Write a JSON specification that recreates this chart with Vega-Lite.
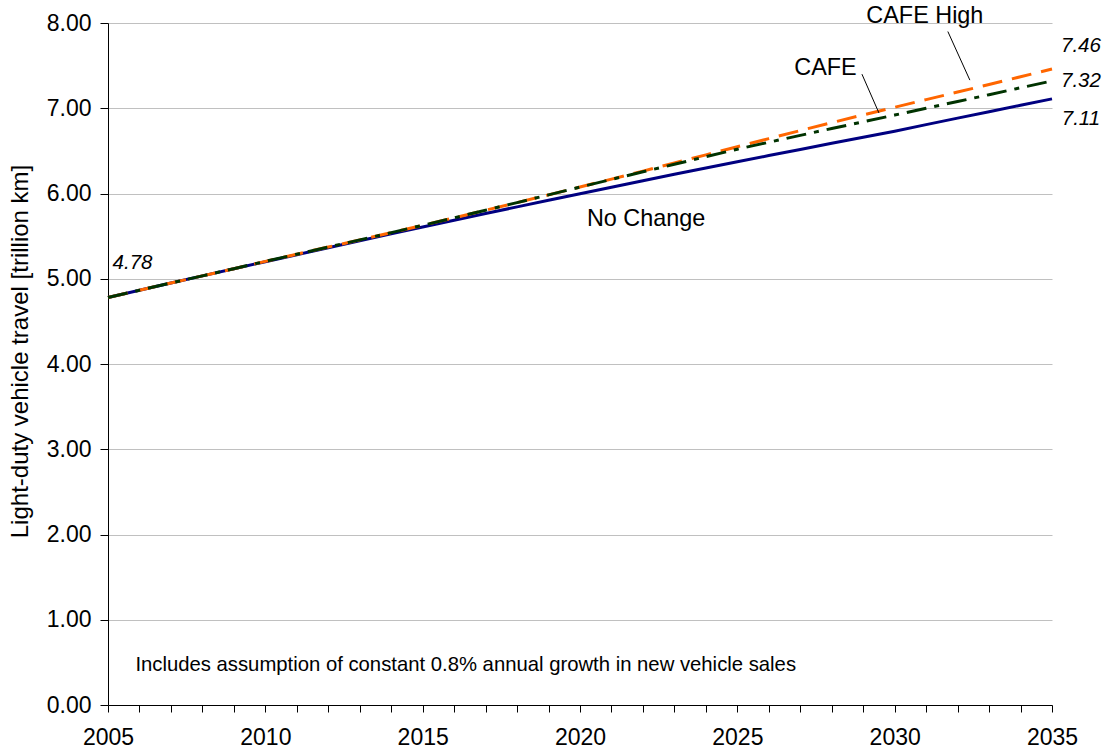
{
  "$schema": "https://vega.github.io/schema/vega-lite/v6.json",
  "autosize": "none",
  "width": 944,
  "height": 682,
  "padding": {"left": 108, "top": 23, "right": 53, "bottom": 47},
  "background": "white",
  "config": {
    "font": "Liberation Sans",
    "view": {"stroke": null},
    "axis": {"labelFont": "Liberation Sans", "titleFont": "Liberation Sans"}
  },
  "datasets": {
    "series": [
      {"year": 2005, "series": "No Change", "value": 4.780},
      {"year": 2006, "series": "No Change", "value": 4.865},
      {"year": 2007, "series": "No Change", "value": 4.950},
      {"year": 2008, "series": "No Change", "value": 5.034},
      {"year": 2009, "series": "No Change", "value": 5.117},
      {"year": 2010, "series": "No Change", "value": 5.200},
      {"year": 2011, "series": "No Change", "value": 5.282},
      {"year": 2012, "series": "No Change", "value": 5.364},
      {"year": 2013, "series": "No Change", "value": 5.445},
      {"year": 2014, "series": "No Change", "value": 5.526},
      {"year": 2015, "series": "No Change", "value": 5.606},
      {"year": 2016, "series": "No Change", "value": 5.686},
      {"year": 2017, "series": "No Change", "value": 5.765},
      {"year": 2018, "series": "No Change", "value": 5.843},
      {"year": 2019, "series": "No Change", "value": 5.921},
      {"year": 2020, "series": "No Change", "value": 5.998},
      {"year": 2021, "series": "No Change", "value": 6.074},
      {"year": 2022, "series": "No Change", "value": 6.150},
      {"year": 2023, "series": "No Change", "value": 6.225},
      {"year": 2024, "series": "No Change", "value": 6.299},
      {"year": 2025, "series": "No Change", "value": 6.372},
      {"year": 2026, "series": "No Change", "value": 6.445},
      {"year": 2027, "series": "No Change", "value": 6.517},
      {"year": 2028, "series": "No Change", "value": 6.589},
      {"year": 2029, "series": "No Change", "value": 6.660},
      {"year": 2030, "series": "No Change", "value": 6.731},
      {"year": 2031, "series": "No Change", "value": 6.808},
      {"year": 2032, "series": "No Change", "value": 6.884},
      {"year": 2033, "series": "No Change", "value": 6.960},
      {"year": 2034, "series": "No Change", "value": 7.035},
      {"year": 2035, "series": "No Change", "value": 7.110},
      {"year": 2005, "series": "CAFE High", "value": 4.780},
      {"year": 2006, "series": "CAFE High", "value": 4.865},
      {"year": 2007, "series": "CAFE High", "value": 4.950},
      {"year": 2008, "series": "CAFE High", "value": 5.034},
      {"year": 2009, "series": "CAFE High", "value": 5.118},
      {"year": 2010, "series": "CAFE High", "value": 5.204},
      {"year": 2011, "series": "CAFE High", "value": 5.288},
      {"year": 2012, "series": "CAFE High", "value": 5.372},
      {"year": 2013, "series": "CAFE High", "value": 5.456},
      {"year": 2014, "series": "CAFE High", "value": 5.541},
      {"year": 2015, "series": "CAFE High", "value": 5.627},
      {"year": 2016, "series": "CAFE High", "value": 5.715},
      {"year": 2017, "series": "CAFE High", "value": 5.804},
      {"year": 2018, "series": "CAFE High", "value": 5.893},
      {"year": 2019, "series": "CAFE High", "value": 5.984},
      {"year": 2020, "series": "CAFE High", "value": 6.076},
      {"year": 2021, "series": "CAFE High", "value": 6.169},
      {"year": 2022, "series": "CAFE High", "value": 6.263},
      {"year": 2023, "series": "CAFE High", "value": 6.358},
      {"year": 2024, "series": "CAFE High", "value": 6.453},
      {"year": 2025, "series": "CAFE High", "value": 6.549},
      {"year": 2026, "series": "CAFE High", "value": 6.644},
      {"year": 2027, "series": "CAFE High", "value": 6.738},
      {"year": 2028, "series": "CAFE High", "value": 6.831},
      {"year": 2029, "series": "CAFE High", "value": 6.922},
      {"year": 2030, "series": "CAFE High", "value": 7.012},
      {"year": 2031, "series": "CAFE High", "value": 7.101},
      {"year": 2032, "series": "CAFE High", "value": 7.190},
      {"year": 2033, "series": "CAFE High", "value": 7.279},
      {"year": 2034, "series": "CAFE High", "value": 7.369},
      {"year": 2035, "series": "CAFE High", "value": 7.460},
      {"year": 2005, "series": "CAFE", "value": 4.780},
      {"year": 2006, "series": "CAFE", "value": 4.865},
      {"year": 2007, "series": "CAFE", "value": 4.950},
      {"year": 2008, "series": "CAFE", "value": 5.034},
      {"year": 2009, "series": "CAFE", "value": 5.118},
      {"year": 2010, "series": "CAFE", "value": 5.204},
      {"year": 2011, "series": "CAFE", "value": 5.288},
      {"year": 2012, "series": "CAFE", "value": 5.372},
      {"year": 2013, "series": "CAFE", "value": 5.456},
      {"year": 2014, "series": "CAFE", "value": 5.541},
      {"year": 2015, "series": "CAFE", "value": 5.627},
      {"year": 2016, "series": "CAFE", "value": 5.715},
      {"year": 2017, "series": "CAFE", "value": 5.804},
      {"year": 2018, "series": "CAFE", "value": 5.893},
      {"year": 2019, "series": "CAFE", "value": 5.984},
      {"year": 2020, "series": "CAFE", "value": 6.075},
      {"year": 2021, "series": "CAFE", "value": 6.165},
      {"year": 2022, "series": "CAFE", "value": 6.255},
      {"year": 2023, "series": "CAFE", "value": 6.343},
      {"year": 2024, "series": "CAFE", "value": 6.432},
      {"year": 2025, "series": "CAFE", "value": 6.520},
      {"year": 2026, "series": "CAFE", "value": 6.601},
      {"year": 2027, "series": "CAFE", "value": 6.682},
      {"year": 2028, "series": "CAFE", "value": 6.762},
      {"year": 2029, "series": "CAFE", "value": 6.841},
      {"year": 2030, "series": "CAFE", "value": 6.920},
      {"year": 2031, "series": "CAFE", "value": 6.999},
      {"year": 2032, "series": "CAFE", "value": 7.079},
      {"year": 2033, "series": "CAFE", "value": 7.159},
      {"year": 2034, "series": "CAFE", "value": 7.240},
      {"year": 2035, "series": "CAFE", "value": 7.320}
    ],
    "valueLabels": [
      {"x": 2005.78, "y": 5.18, "text": "4.78"},
      {"x": 2035.92, "y": 7.73, "text": "7.46"},
      {"x": 2035.92, "y": 7.32, "text": "7.32"},
      {"x": 2035.92, "y": 6.87, "text": "7.11"}
    ],
    "nameLabels": [
      {"x": 2030.96, "y": 8.08, "text": "CAFE High"},
      {"x": 2027.8, "y": 7.47, "text": "CAFE"},
      {"x": 2022.1, "y": 5.7, "text": "No Change"}
    ],
    "leaders": [
      {"x": 2031.69, "y": 7.9, "x2": 2032.39, "y2": 7.33},
      {"x": 2028.96, "y": 7.4, "x2": 2029.5, "y2": 6.945}
    ],
    "notes": [
      {"x": 2005.87, "y": 0.47, "text": "Includes assumption of constant 0.8% annual growth in new vehicle sales"}
    ]
  },
  "layer": [
    {
      "data": {"name": "series"},
      "transform": [{"filter": "datum.series === 'No Change'"}],
      "mark": {"type": "line", "color": "#000080", "strokeWidth": 3, "clip": false},
      "encoding": {
        "x": {
          "field": "year", "type": "quantitative",
          "scale": {"domain": [2005, 2035], "nice": false, "zero": false},
          "axis": {
            "title": null,
            "values": [2005,2006,2007,2008,2009,2010,2011,2012,2013,2014,2015,2016,2017,2018,2019,2020,2021,2022,2023,2024,2025,2026,2027,2028,2029,2030,2031,2032,2033,2034,2035],
            "tickCount": 40,
            "labelExpr": "datum.value % 5 === 0 ? datum.value : ''",
            "format": "d",
            "grid": false,
            "domainColor": "#000000",
            "domainWidth": 1,
            "tickColor": "#000000",
            "tickSize": 7,
            "tickWidth": 1,
            "labelFontSize": 23,
            "labelColor": "#000000",
            "labelPadding": 14,
            "labelFlush": false,
            "labelOverlap": false
          }
        },
        "y": {
          "field": "value", "type": "quantitative",
          "scale": {"domain": [0, 8], "nice": false},
          "axis": {
            "title": "Light-duty vehicle travel [trillion km]",
            "titleFontSize": 24,
            "titleFontWeight": "normal",
            "titleColor": "#000000",
            "titlePadding": 14,
            "titleY": 328,
            "values": [0,1,2,3,4,5,6,7,8],
            "tickCount": 20,
            "format": ".2f",
            "grid": true,
            "gridColor": "#c0c0c0",
            "gridWidth": 1,
            "domainColor": "#000000",
            "tickColor": "#000000",
            "tickSize": 8,
            "labelFontSize": 23,
            "labelColor": "#000000",
            "labelPadding": 9
          }
        }
      }
    },
    {
      "data": {"name": "series"},
      "transform": [{"filter": "datum.series === 'CAFE High'"}],
      "mark": {"type": "line", "color": "#FF6600", "strokeWidth": 3, "strokeDash": [20, 10], "clip": false},
      "encoding": {
        "x": {"field": "year", "type": "quantitative"},
        "y": {"field": "value", "type": "quantitative"}
      }
    },
    {
      "data": {"name": "series"},
      "transform": [{"filter": "datum.series === 'CAFE'"}],
      "mark": {"type": "line", "color": "#003300", "strokeWidth": 3, "strokeDash": [20, 8, 5, 8], "clip": false},
      "encoding": {
        "x": {"field": "year", "type": "quantitative"},
        "y": {"field": "value", "type": "quantitative"}
      }
    },
    {
      "data": {"name": "leaders"},
      "mark": {"type": "rule", "color": "#000000", "strokeWidth": 1},
      "encoding": {
        "x": {"field": "x", "type": "quantitative"},
        "y": {"field": "y", "type": "quantitative"},
        "x2": {"field": "x2"},
        "y2": {"field": "y2"}
      }
    },
    {
      "data": {"name": "valueLabels"},
      "mark": {"type": "text", "fontSize": 20.5, "fontStyle": "italic", "align": "center", "baseline": "middle", "color": "#000000"},
      "encoding": {
        "x": {"field": "x", "type": "quantitative"},
        "y": {"field": "y", "type": "quantitative"},
        "text": {"field": "text"}
      }
    },
    {
      "data": {"name": "nameLabels"},
      "mark": {"type": "text", "fontSize": 23.4, "align": "center", "baseline": "middle", "color": "#000000"},
      "encoding": {
        "x": {"field": "x", "type": "quantitative"},
        "y": {"field": "y", "type": "quantitative"},
        "text": {"field": "text"}
      }
    },
    {
      "data": {"name": "notes"},
      "mark": {"type": "text", "fontSize": 20.3, "align": "left", "baseline": "middle", "color": "#000000"},
      "encoding": {
        "x": {"field": "x", "type": "quantitative"},
        "y": {"field": "y", "type": "quantitative"},
        "text": {"field": "text"}
      }
    }
  ]
}
